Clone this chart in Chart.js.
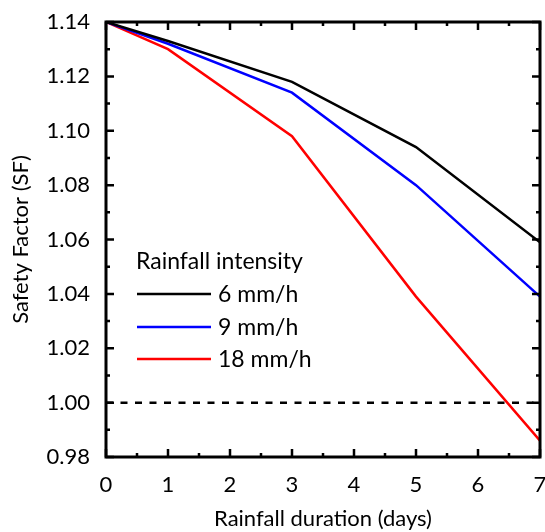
<!DOCTYPE html>
<html><head><meta charset="utf-8">
<script src="https://cdn.jsdelivr.net/npm/chart.js@4/dist/chart.umd.min.js"></script>
<style>html,body{margin:0;padding:0;background:#fff;}#wrap{width:545px;height:532px;}</style>
</head><body><div id="wrap"><canvas id="c" width="545" height="532"></canvas></div>
<script>
const days = [0, 1, 3, 5, 7];
const sf6 = [1.140, 1.133, 1.118, 1.094, 1.059];
const sf9 = [1.140, 1.132, 1.114, 1.080, 1.039];
const sf18 = [1.140, 1.130, 1.098, 1.039, 0.986];
const seriesLabels = ['6 mm/h', '9 mm/h', '18 mm/h'];
const seriesColors = ['#000000', '#0000ff', '#ff0000'];
const thresholdX = [0, 7];
const thresholdY = [1.00, 1.00];
const yTicks = [0.98, 1.00, 1.02, 1.04, 1.06, 1.08, 1.10, 1.12, 1.14];
const xTicks = [0, 1, 2, 3, 4, 5, 6, 7];
const legendTitle = 'Rainfall intensity';

const FONT = 'Lato, "Open Sans", sans-serif';
const pts = (xs, ys) => xs.map((x, i) => ({x: x, y: ys[i]}));
const seriesData = [sf6, sf9, sf18];

const datasets = seriesData.map((d, i) => ({
  label: seriesLabels[i], data: pts(days, d), borderColor: seriesColors[i],
  borderWidth: 2.5, pointRadius: 0, fill: false, tension: 0
}));
datasets.unshift({
  label: 'threshold', data: pts(thresholdX, thresholdY), borderColor: '#000',
  borderWidth: 2.5, borderDash: [7, 7.5], pointRadius: 0, fill: false
});

const framePlugin = {
  id: 'frame',
  afterDatasetsDraw(chart) {
    const ctx = chart.ctx, a = chart.chartArea;
    const xs = chart.scales.x, ys = chart.scales.y;
    ctx.save();
    ctx.strokeStyle = '#000';
    ctx.lineWidth = 3;
    ctx.strokeRect(a.left, a.top, a.right - a.left, a.bottom - a.top);
    ctx.lineWidth = 2.5;
    ctx.beginPath();
    for (let v = 0; v <= 7.001; v += 0.5) {
      const px = xs.getPixelForValue(v);
      const L = Math.abs(v - Math.round(v)) < 1e-6 ? 8 : 4;
      ctx.moveTo(px, a.bottom); ctx.lineTo(px, a.bottom - L);
      ctx.moveTo(px, a.top); ctx.lineTo(px, a.top + L);
    }
    for (let k = 0; k <= 16; k++) {
      const v = 0.98 + k * 0.01;
      const py = ys.getPixelForValue(v);
      const L = k % 2 === 0 ? 8 : 4;
      ctx.moveTo(a.left, py); ctx.lineTo(a.left + L, py);
      ctx.moveTo(a.right, py); ctx.lineTo(a.right - L, py);
    }
    ctx.stroke();
    // legend
    ctx.fillStyle = '#000';
    ctx.font = '23px ' + FONT;
    ctx.textBaseline = 'middle';
    ctx.textAlign = 'left';
    ctx.fillText(legendTitle, 136, 262);
    const rows = [294, 327, 359];
    seriesLabels.forEach((lab, i) => {
      ctx.strokeStyle = seriesColors[i];
      ctx.lineWidth = 2.5;
      ctx.beginPath(); ctx.moveTo(137, rows[i]); ctx.lineTo(211, rows[i]); ctx.stroke();
      ctx.fillText(lab, 218, rows[i] + 1);
    });
    ctx.restore();
  }
};

new Chart(document.getElementById('c'), {
  type: 'line',
  data: { datasets: datasets },
  options: {
    responsive: false, animation: false,
    layout: { padding: { top: 22, right: 5, left: 0, bottom: 0 } },
    plugins: { legend: { display: false }, tooltip: { enabled: false } },
    scales: {
      x: {
        type: 'linear', min: 0, max: 7,
        grid: { display: false, drawTicks: false }, border: { display: false },
        afterBuildTicks: s => { s.ticks = xTicks.map(v => ({value: v})); },
        ticks: { color: '#000', font: { size: 22, family: FONT }, padding: 15, maxRotation: 0,
                 callback: v => String(v) },
        title: { display: true, text: 'Rainfall duration (days)', color: '#000',
                 font: { size: 22, family: FONT }, padding: { top: 11, bottom: 0 } },
        afterFit: s => { s.height = 75; s.paddingLeft = 0; s.paddingRight = 0; }
      },
      y: {
        min: 0.98, max: 1.14,
        grid: { display: false, drawTicks: false }, border: { display: false },
        afterBuildTicks: s => { s.ticks = yTicks.map(v => ({value: v})); },
        ticks: { color: '#000', font: { size: 22, family: FONT }, padding: 16,
                 callback: v => Number(v).toFixed(2) },
        title: { display: true, text: 'Safety Factor (SF)', color: '#000',
                 font: { size: 22, family: FONT }, padding: { top: 8, bottom: 4 } },
        afterFit: s => { s.width = 106; s.paddingTop = 0; s.paddingBottom = 0; }
      }
    }
  },
  plugins: [framePlugin]
});
</script></body></html>
